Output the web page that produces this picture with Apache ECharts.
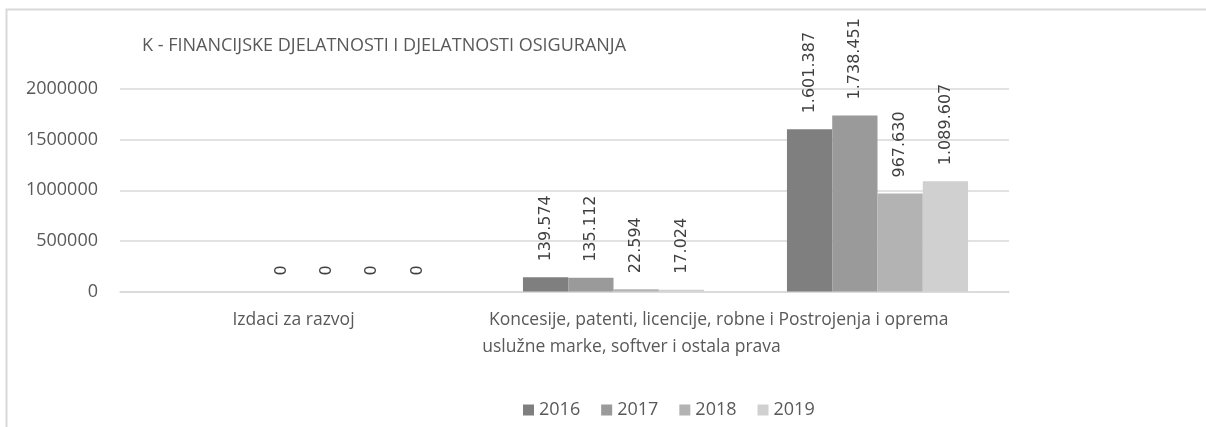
<!DOCTYPE html>
<html>
<head>
<meta charset="utf-8">
<script src="https://cdn.jsdelivr.net/npm/echarts@6/dist/echarts.min.js"></script>
<style>
  html, body { margin: 0; padding: 0; background: #fff; }
  #chart { width: 1206px; height: 427px; }
</style>
</head>
<body>
<div id="chart"></div>
<script>
// podaci
const categories = [
  'Izdaci za razvoj',
  'Koncesije, patenti, licencije, robne i\nuslužne marke, softver i ostala prava',
  'Postrojenja i oprema'
];
const years = ['2016', '2017', '2018', '2019'];
const values2016 = [0, 139574, 1601387];
const values2017 = [0, 135112, 1738451];
const values2018 = [0, 22594, 967630];
const values2019 = [0, 17024, 1089607];
const yTicks = [0, 500000, 1000000, 1500000, 2000000];

const colors = ['#7f7f7f', '#9a9a9a', '#b3b3b3', '#d0d0d0'];
const allValues = [values2016, values2017, values2018, values2019];
// horizontal shift of category labels (px), as in the original
const labelShift = [-56, 18, -14];

const chart = echarts.init(document.getElementById('chart'));

// 1601387 -> 1.601.387
function fmt(v) {
  return String(v).replace(/\B(?=(\d{3})+(?!\d))/g, '.');
}

const catItems = categories.map((c, i) => {
  const s = labelShift[i];
  return {
    value: c,
    textStyle: { padding: s < 0 ? [0, -2 * s, 0, 0] : [0, 0, 0, 2 * s] }
  };
});

const series = years.map((y, i) => ({
  name: y,
  type: 'bar',
  xAxisIndex: 1,
  yAxisIndex: 1,
  data: allValues[i],
  barGap: '0%',
  barCategoryGap: '31.4%',
  itemStyle: { color: colors[i] },
  emphasis: { disabled: true },
  label: {
    show: true,
    position: 'top',
    rotate: 90,
    align: 'left',
    verticalAlign: 'middle',
    distance: 16,
    fontFamily: 'DejaVu Sans',
    fontSize: 16,
    color: '#404040',
    formatter: p => fmt(p.value)
  }
}));

const yMin = yTicks[0];
const yMax = yTicks[yTicks.length - 1];
const yStep = yTicks[1] - yTicks[0];

chart.setOption({
  animation: false,
  color: colors,
  textStyle: { fontFamily: 'Open Sans' },
  title: {
    text: 'K - FINANCIJSKE DJELATNOSTI I DJELATNOSTI OSIGURANJA',
    left: 137,
    top: 32,
    textStyle: { fontFamily: 'Open Sans', fontSize: 18, fontWeight: 'normal', color: '#595959' }
  },
  graphic: [{
    type: 'rect',
    shape: { x: 6.5, y: 9.5, width: 1400, height: 600 },
    style: { fill: 'none', stroke: '#d9d9d9', lineWidth: 2 },
    silent: true
  }],
  legend: {
    data: years,
    left: 518,
    top: 396,
    icon: 'rect',
    itemWidth: 11,
    itemHeight: 11,
    itemGap: 21,
    textStyle: { fontFamily: 'Open Sans', fontSize: 18, color: '#595959' }
  },
  grid: [
    { left: 120, right: 197, top: 89, bottom: 135.5 },
    { left: 217.5, right: 196.5, top: 89, bottom: 135.5 }
  ],
  xAxis: [
    {
      type: 'category',
      gridIndex: 0,
      data: categories,
      axisLine: { lineStyle: { color: '#d9d9d9', width: 1.5 } },
      axisTick: { show: false },
      axisLabel: { show: false }
    },
    {
      type: 'category',
      gridIndex: 1,
      data: catItems,
      axisLine: { show: false },
      axisTick: { show: false },
      axisLabel: {
        fontFamily: 'Open Sans',
        fontSize: 17.5,
        lineHeight: 27,
        color: '#595959',
        margin: 15,
        interval: 0
      }
    }
  ],
  yAxis: [
    {
      type: 'value',
      gridIndex: 0,
      min: yMin,
      max: yMax,
      interval: yStep,
      axisLine: { show: false },
      axisTick: { show: false },
      splitLine: { lineStyle: { color: '#d9d9d9', width: 1.5 } },
      axisLabel: {
        fontFamily: 'Open Sans',
        fontSize: 18,
        color: '#595959',
        margin: 22,
        formatter: v => String(v)
      }
    },
    {
      type: 'value',
      gridIndex: 1,
      min: yMin,
      max: yMax,
      interval: yStep,
      show: false
    }
  ],
  series: series
});
</script>
</body>
</html>
